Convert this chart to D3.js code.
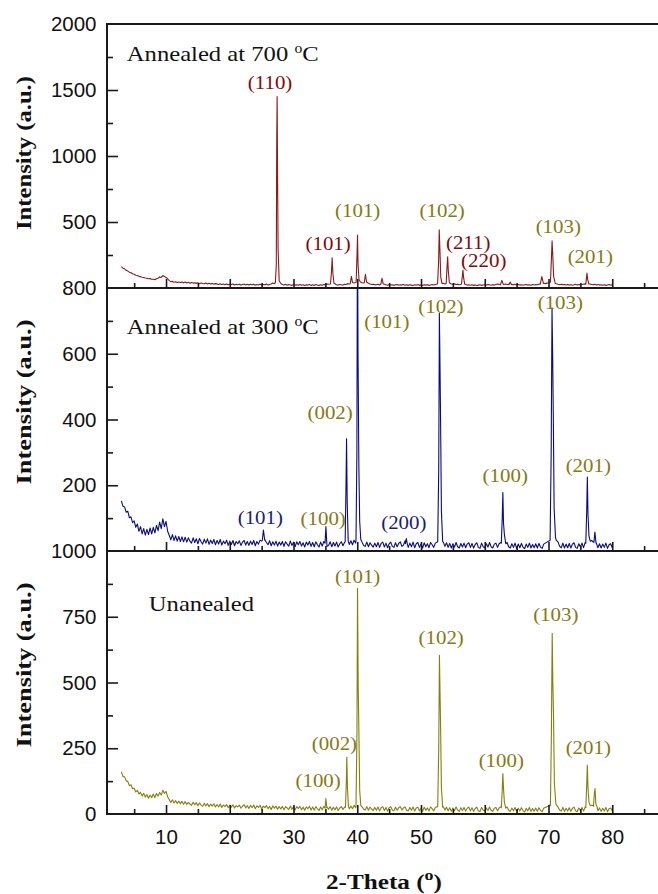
<!DOCTYPE html>
<html>
<head>
<meta charset="utf-8">
<script src="https://cdn.jsdelivr.net/npm/d3@7"></script>
<style>
  html, body { margin: 0; padding: 0; background: #fff; }
  svg { display: block; }
</style>
</head>
<body>
<svg id="chart" width="658" height="894"></svg>
<script>
// ---- XRD scans: background counts on a regular 2θ grid (3.00°..80.00°, 0.25° step)
const gridStart = 3.0, gridStep = 0.25;

// Annealed at 700 °C
const bg700 = [
  162,150,145,134,128,120,116,108,104,97,95,88,86,82,80,76,74,70,71,66,
  66,62,70,74,84,80,94,88,80,70,56,48,50,44,48,42,46,41,45,39,
  45,38,43,36,42,37,40,35,39,33,38,34,32,38,31,36,30,35,29,33,
  31,27,32,26,30,25,31,24,29,26,30,23,28,25,29,22,27,30,23,28,
  22,28,24,29,21,27,23,29,22,26,24,30,22,27,30,38,32,50,60,60,
  34,27,22,28,21,26,23,20,27,22,25,20,26,21,24,19,25,22,27,20,
  24,20,26,22,19,25,21,27,24,30,28,30,40,40,32,25,22,27,24,22,
  29,26,33,30,50,50,38,42,50,50,45,40,38,50,44,36,30,27,29,24,
  25,29,23,50,50,28,24,21,26,22,25,20,24,27,21,25,22,26,21,24,
  20,25,22,19,24,21,26,20,23,19,25,22,24,20,23,26,22,27,30,34,
  50,50,36,30,50,50,38,30,27,32,26,29,25,28,50,50,26,22,25,21,
  24,20,23,19,22,25,20,23,26,22,27,24,21,25,22,26,30,28,40,40,
  27,30,26,29,50,27,24,28,23,26,22,25,21,24,27,22,25,21,26,23,
  27,24,29,50,50,38,33,37,40,44,50,50,50,32,28,25,29,24,27,22,
  26,22,25,21,24,28,23,27,24,26,29,31,50,50,30,27,24,28,23,26,
  22,25,21,24,20,23,26,22,24
];
const peaks700 = [
  [[27.15,40],[27.3,180],[27.37,1130],[27.43,1450],[27.5,840],[27.58,300],[27.75,55]],
  [[35.8,32],[35.95,120],[36.06,228],[36.18,110],[36.35,36]],
  [[38.9,32],[39.08,88],[39.25,42]],
  [[39.82,44],[39.96,250],[40.04,402],[40.12,180],[40.28,62]],
  [[41.1,42],[41.28,104],[41.45,46]],
  [[43.7,30],[43.88,74],[44.08,30]],
  [[52.6,34],[52.76,200],[52.86,440],[52.96,300],[53.1,80],[53.3,34]],
  [[53.95,35],[54.08,160],[54.18,237],[54.28,130],[54.45,40]],
  [[56.35,30],[56.48,90],[56.58,136],[56.68,80],[56.85,30]],
  [[62.45,24],[62.68,58],[62.9,28]],
  [[63.8,24],[64.0,45],[64.2,25]],
  [[68.7,28],[68.95,86],[69.2,35]],
  [[70.3,45],[70.44,200],[70.56,358],[70.66,260],[70.8,90],[71.05,36]],
  [[75.85,28],[76.03,113],[76.15,62],[76.35,30]]
];

// Annealed at 300 °C
const bg300 = [
  152,136,134,118,121,101,104,86,92,72,82,60,74,52,68,48,66,50,70,52,
  72,55,78,62,88,68,98,74,90,60,48,34,50,32,46,30,44,29,43,28,
  42,27,40,30,24,40,26,37,22,38,28,21,36,24,37,20,33,23,35,19,
  32,21,35,18,30,22,33,17,30,20,32,16,29,22,31,17,27,32,18,29,
  17,30,20,32,16,29,21,33,30,50,35,26,19,31,16,28,18,30,15,27,
  18,29,14,28,21,15,30,17,27,13,28,19,29,15,25,12,27,18,29,14,
  26,13,28,19,12,27,15,29,20,14,17,28,13,26,15,27,12,22,28,16,
  26,30,30,20,31,19,33,24,30,33,29,27,17,14,27,13,25,18,12,24,
  13,26,11,23,27,12,24,10,22,27,14,11,25,13,23,28,14,18,31,16,
  11,24,13,27,10,22,26,11,21,9,25,13,22,10,26,19,11,24,27,30,
  30,28,27,14,25,11,23,9,22,12,26,13,9,23,12,24,10,21,25,11,
  23,9,20,25,11,8,24,13,10,22,12,26,13,9,21,24,11,22,26,30,
  40,30,26,13,9,22,11,24,8,21,10,23,12,7,21,11,24,9,20,10,
  22,9,23,12,8,21,24,27,30,40,50,60,50,32,27,14,10,24,9,21,
  10,23,9,21,25,11,8,22,12,24,10,26,40,40,40,32,28,30,24,10,
  22,9,21,11,24,8,19,22,10
];
const peaks300 = [
  [[25.1,32],[25.28,64],[25.48,33]],
  [[34.95,24],[35.08,74],[35.22,25]],
  [[38.1,28],[38.22,180],[38.32,341],[38.42,150],[38.58,30]],
  [[39.8,32],[39.94,300],[40.03,1050],[40.12,600],[40.25,255],[40.38,90],[40.55,35]],
  [[47.55,22],[47.7,38],[47.85,21]],
  [[52.62,28],[52.78,250],[52.88,723],[52.98,560],[53.07,397],[53.2,120],[53.4,28]],
  [[62.6,24],[62.74,100],[62.84,178],[62.94,85],[63.08,50],[63.3,22]],
  [[70.25,32],[70.42,300],[70.55,740],[70.65,600],[70.75,418],[70.88,130],[71.1,40]],
  [[75.85,24],[75.99,120],[76.09,225],[76.19,115],[76.35,45],[76.55,30]],
  [[77.12,26],[77.28,58],[77.45,24]]
];

// Unannealed
const bgUn = [
  160,142,141,126,124,108,111,96,98,84,90,76,82,68,79,64,74,60,72,62,
  76,63,78,68,82,72,90,78,86,66,55,44,54,42,51,40,49,39,48,37,
  47,36,44,38,33,45,35,43,31,42,34,29,41,31,40,28,38,30,39,27,
  36,27,38,25,34,28,36,24,33,26,35,23,32,27,34,22,30,35,23,32,
  21,33,24,34,20,31,25,33,19,30,24,32,20,29,17,31,22,30,18,28,
  19,29,16,28,23,17,30,18,27,15,28,21,29,16,26,14,27,20,29,15,
  27,14,28,20,13,27,16,29,22,27,18,28,14,26,16,27,13,23,28,17,
  26,28,30,20,30,20,33,24,30,33,29,27,18,15,28,14,26,19,13,25,
  14,27,12,24,28,13,25,11,23,28,15,12,26,14,24,28,15,23,27,13,
  12,25,14,27,11,23,26,12,22,10,26,14,23,11,27,20,12,25,28,30,
  30,28,28,15,26,12,24,10,23,13,27,14,10,24,13,25,11,22,26,12,
  24,10,21,26,12,9,25,14,11,23,13,27,14,10,22,25,12,23,27,30,
  40,30,27,14,10,23,12,25,9,22,11,24,13,8,22,12,25,10,21,11,
  23,10,24,13,9,22,25,28,31,34,50,60,50,34,26,15,11,25,10,22,
  11,24,10,22,26,12,9,23,13,25,11,27,40,40,40,33,31,40,40,12,
  23,10,22,12,25,9,20,23,11
];
const peaksUn = [
  [[34.95,22],[35.08,59],[35.22,24]],
  [[38.15,26],[38.28,120],[38.36,217],[38.46,100],[38.62,28]],
  [[39.8,30],[39.95,300],[40.04,858],[40.14,500],[40.24,337],[40.38,90],[40.55,32]],
  [[52.62,28],[52.78,250],[52.89,603],[52.99,450],[53.08,318],[53.2,100],[53.4,26]],
  [[62.6,24],[62.74,90],[62.84,154],[62.94,98],[63.08,45],[63.3,22]],
  [[70.3,32],[70.45,300],[70.58,687],[70.68,500],[70.78,388],[70.92,120],[71.15,40]],
  [[75.85,24],[75.99,110],[76.09,186],[76.19,100],[76.35,45],[76.55,32]],
  [[77.05,30],[77.2,80],[77.3,97],[77.42,40],[77.65,24]]
];

// ---- Reflection labels (2θ, intensity at label baseline, phase)
const labels700 = [
  { text: "(110)", x: 26.32, y: 1504, phase: "second" },
  { text: "(101)", x: 35.43, y: 288,  phase: "second" },
  { text: "(101)", x: 40.06, y: 538,  phase: "zno" },
  { text: "(102)", x: 53.32, y: 538,  phase: "zno" },
  { text: "(211)", x: 57.40, y: 299,  phase: "second" },
  { text: "(220)", x: 59.84, y: 159,  phase: "second" },
  { text: "(103)", x: 71.53, y: 413,  phase: "zno" },
  { text: "(201)", x: 76.55, y: 186,  phase: "zno" }
];
const labels300 = [
  { text: "(101)", x: 24.79, y: 83,  phase: "film" },
  { text: "(100)", x: 34.65, y: 79,  phase: "zno" },
  { text: "(002)", x: 35.74, y: 401, phase: "zno" },
  { text: "(101)", x: 44.64, y: 679, phase: "zno" },
  { text: "(102)", x: 53.12, y: 724, phase: "zno" },
  { text: "(200)", x: 47.30, y: 68,  phase: "film" },
  { text: "(100)", x: 63.21, y: 209, phase: "zno" },
  { text: "(103)", x: 71.85, y: 735, phase: "zno" },
  { text: "(201)", x: 76.24, y: 239, phase: "zno" }
];
const labelsUn = [
  { text: "(100)", x: 33.86, y: 102, phase: "zno" },
  { text: "(002)", x: 36.42, y: 242, phase: "zno" },
  { text: "(101)", x: 40.06, y: 879, phase: "zno" },
  { text: "(102)", x: 53.16, y: 646, phase: "zno" },
  { text: "(100)", x: 62.59, y: 178, phase: "zno" },
  { text: "(103)", x: 71.14, y: 735, phase: "zno" },
  { text: "(201)", x: 76.24, y: 229, phase: "zno" }
];

// ---- Sample names and axis texts
const sampleNames = ["Annealed at 700 ", "Annealed at 300 ", "Unanealed"];
const sampleUnits = ["C", "C", ""];
const sampleAt = [[3.85, 1722], [3.85, 661], [7.3, 773]];
const yMaxes = [2000, 800, 1000];
const yMajor = [500, 200, 250];
const xMajorTicks = [10, 20, 30, 40, 50, 60, 70, 80, 90];
const xMinorTicks = [5, 15, 25, 35, 45, 55, 65, 75, 85];
const yTitle = "Intensity (a.u.)";
const xTitle = "2-Theta (";

// ---- Layout
const svg = d3.select("#chart");
const left = 107, right = 676;
const bands = [[24, 288], [288, 551], [551, 814]];
const yTitleCenters = [153, 402, 665];
const traceColors = ["#8a1a1a", "#0b0b80", "#84800c"];
const labelColors = { second: "#7c0c0c", zno: "#857a12", film: "#1c1c72" };
const serif = "'Liberation Serif','Times New Roman',serif";
const sans = "'Liberation Sans',Arial,sans-serif";

const x = d3.scaleLinear().domain([0.74, 90]).range([left, right]);

// background grid + peak profiles; grid samples lying under a peak are dropped
function buildSeries(bg, peaks) {
  const pts = bg.map((v, i) => [gridStart + i * gridStep, v]);
  const ranges = peaks.map(p => [p[0][0], p[p.length - 1][0]]);
  const kept = pts.filter(([px]) => !ranges.some(([a, b]) => px >= a && px <= b));
  return kept.concat(...peaks).sort((a, b) => a[0] - b[0]);
}

// serif text with an optional superscript "o" before the trailing part
function serifText(g, tx, ty, opts) {
  const t = g.append("text")
    .attr("transform", `translate(${tx},${ty})${opts.rotate ? " rotate(-90)" : ""} scale(${opts.sx},1)`)
    .attr("text-anchor", opts.anchor || "start")
    .attr("font-family", serif)
    .attr("font-size", opts.size)
    .attr("font-weight", opts.weight || "normal")
    .attr("fill", opts.color || "#111");
  t.append("tspan").text(opts.main);
  if (opts.sup) {
    t.append("tspan").attr("font-size", opts.supSize).attr("dy", -opts.supRise).text(opts.sup);
    t.append("tspan").attr("dy", opts.supRise).text(opts.tail || "");
  }
  return t;
}

const series = [
  { bg: bg700, peaks: peaks700, labels: labels700 },
  { bg: bg300, peaks: peaks300, labels: labels300 },
  { bg: bgUn,  peaks: peaksUn,  labels: labelsUn }
];

const defs = svg.append("defs");

series.forEach((s, i) => {
  const [top, bottom] = bands[i];
  const y = d3.scaleLinear().domain([0, yMaxes[i]]).range([bottom, top]);
  const g = svg.append("g");

  defs.append("clipPath").attr("id", "clip" + i)
    .append("rect").attr("x", left).attr("y", top).attr("width", right - left).attr("height", bottom - top);

  // diffraction trace
  const data = buildSeries(s.bg, s.peaks);
  g.append("path")
    .datum(data)
    .attr("clip-path", `url(#clip${i})`)
    .attr("fill", "none")
    .attr("stroke", traceColors[i])
    .attr("stroke-width", 1.1)
    .attr("stroke-linejoin", "round")
    .attr("d", d3.line().x(d => x(d[0])).y(d => y(d[1])));

  // y ticks (inward) and labels
  const majors = d3.range(0, yMaxes[i] + 1, yMajor[i]);
  const minors = d3.range(yMajor[i] / 2, yMaxes[i], yMajor[i]);
  const shown = i === 2 ? majors : majors.filter(v => v > 0);

  const yTickMajor = g.append("g").attr("transform", `translate(${left},0)`)
    .call(d3.axisRight(y).tickValues(majors.filter(v => v > 0 && v < yMaxes[i])).tickSize(11).tickFormat(""));
  const yTickMinor = g.append("g").attr("transform", `translate(${left},0)`)
    .call(d3.axisRight(y).tickValues(minors).tickSize(6).tickFormat(""));
  [yTickMajor, yTickMinor].forEach(a => {
    a.select(".domain").remove();
    a.selectAll("line").attr("stroke", "#1a1a1a").attr("stroke-width", 1.6);
  });

  const yLab = g.append("g").attr("transform", `translate(${left},0)`)
    .call(d3.axisLeft(y).tickValues(shown).tickSize(0).tickPadding(10.5).tickFormat(d3.format("d")));
  yLab.select(".domain").remove();
  yLab.selectAll("text").attr("font-family", sans).attr("font-size", 20.5).attr("fill", "#111");

  // x ticks along the bottom of each panel, pointing up
  const xTickMajor = g.append("g").attr("transform", `translate(0,${bottom})`)
    .call(d3.axisTop(x).tickValues(xMajorTicks).tickSize(9).tickFormat(""));
  const xTickMinor = g.append("g").attr("transform", `translate(0,${bottom})`)
    .call(d3.axisTop(x).tickValues(xMinorTicks).tickSize(5).tickFormat(""));
  [xTickMajor, xTickMinor].forEach(a => {
    a.select(".domain").remove();
    a.selectAll("line").attr("stroke", "#1a1a1a").attr("stroke-width", 1.6);
  });

  if (i === 2) {
    const xLab = g.append("g").attr("transform", `translate(0,${bottom})`)
      .call(d3.axisBottom(x).tickValues(xMajorTicks.filter(v => v <= 80)).tickSize(0).tickPadding(15));
    xLab.select(".domain").remove();
    xLab.selectAll("text").attr("font-family", sans).attr("font-size", 20.5).attr("fill", "#111");
  }

  // reflection labels
  s.labels.forEach(l => {
    serifText(g, x(l.x), y(l.y), {
      main: l.text, size: 19, sx: 1.1, anchor: "middle", color: labelColors[l.phase]
    });
  });

  // sample name
  const [sx, sy] = sampleAt[i];
  serifText(g, x(sx), y(sy), {
    main: sampleNames[i], size: 22, sx: 1.12, color: "#111",
    sup: sampleUnits[i] ? "o" : null, supSize: 14, supRise: 8, tail: sampleUnits[i]
  });

  // y title
  serifText(g, 31, yTitleCenters[i], {
    main: yTitle, size: 22, sx: i === 0 ? 1.12 : 1.2, weight: "bold", anchor: "middle", rotate: true, color: "#111"
  });
});

// frame
const frame = svg.append("g").attr("stroke", "#1a1a1a").attr("stroke-width", 2).attr("fill", "none");
frame.append("line").attr("x1", left).attr("x2", left).attr("y1", bands[0][0]).attr("y2", bands[2][1]);
[bands[0][0], bands[0][1], bands[1][1], bands[2][1]].forEach(v => {
  frame.append("line").attr("x1", left - 1).attr("x2", right).attr("y1", v).attr("y2", v);
});

// x title
serifText(svg, 384, 889, {
  main: xTitle, size: 21, sx: 1.2, weight: "bold", anchor: "middle", color: "#111",
  sup: "o", supSize: 15, supRise: 9, tail: ")"
});
</script>
</body>
</html>
